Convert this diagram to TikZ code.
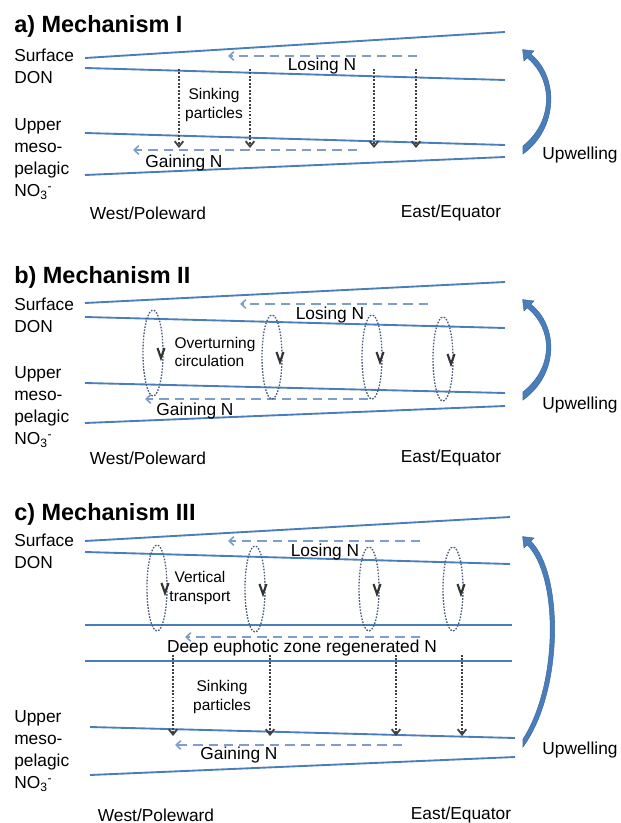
\documentclass[tikz,border=0pt]{standalone}
\usepackage{fontspec}
\setmainfont{Liberation Sans}
\usetikzlibrary{arrows.meta}

\definecolor{seablue}{RGB}{74,126,187}
\definecolor{flowblue}{RGB}{125,158,205}
\definecolor{dotgrey}{RGB}{65,65,68}
\definecolor{loopgrey}{RGB}{75,92,125}

% curved upwelling arrow: x of tail, top y, bottom y, bulge, tail bend, head bend
\newcommand\upwellarrow[6]{%
  \fill[seablue, draw=seablue!85!black, line width=0.4pt]
    ({#1},{#3+4}) .. controls ({#1+#4+3},{#3-#5+3}) and ({#1+#4+2.5},{#2+#6-2}) .. ({#1+7.8},{#2+6.2})
    -- ({#1+11},{#2+3}) -- ({#1-0.4},{#2+1.6}) -- ({#1+1},{#2+13}) -- ({#1+4.2},{#2+9.8})
    .. controls ({#1+#4-2},{#2+#6+2}) and ({#1+#4-3},{#3-#5-3}) .. ({#1},{#3-4}) -- cycle;}

% horizontal transport arrow between two named coordinates
\newcommand\flowline[4]{%
  \coordinate (#1s) at (#2,#4); \coordinate (#1e) at (#3,#4);
  \draw[flow] (#1s) -- (#1e);}

% sinking particle arrow
\newcommand\sinkline[4]{%
  \coordinate (#1s) at (#2,#3); \coordinate (#1e) at (#2,#4);
  \draw[sink] (#1s) -- (#1e);}

% overturning loop with its downward mark
\newcommand\overturn[4]{%
  \coordinate (#1) at (#2,#3);
  \draw[loop] (#1) ellipse [x radius=10, y radius=#4];
  \draw[vmark] ([shift={(4.5,-5)}]#1) -- ([shift={(8,5)}]#1) -- ([shift={(11.5,-5)}]#1);}

\begin{document}
\begin{tikzpicture}[x=0.75pt,y=-0.75pt,
  layer/.style={draw=seablue, line width=1.4pt},
  flow/.style={draw=flowblue, line width=1.2pt, dash pattern=on 7pt off 4.5pt,
    -{Straight Barb[length=3.5pt,width=6.5pt]}},
  sink/.style={draw=dotgrey, line width=1.1pt, dash pattern=on 1.4pt off 1.2pt,
    -{Straight Barb[length=4pt,width=6.5pt,line width=1.4pt]}},
  loop/.style={draw=loopgrey, line width=1pt, dash pattern=on 1.2pt off 1.1pt},
  vmark/.style={draw=dotgrey!80!black, line width=1.6pt},
  title/.style={font=\fontsize{17.6}{21}\selectfont\bfseries, anchor=base west, inner sep=0pt},
  side/.style={font=\fontsize{13}{16.5}\selectfont, align=left, anchor=west, inner sep=0pt},
  lbl/.style={font=\fontsize{13}{16}\selectfont, inner sep=0pt},
  small/.style={font=\fontsize{11.6}{13.8}\selectfont, align=center, inner sep=0pt}
]
\useasboundingbox (0,0) rectangle (620,823);

%% ---------------- a) Mechanism I ----------------
\node[title] (ta) at (14,33) {a) Mechanism I};
\node[side] (sa) at (14,66) {Surface\\DON};
\node[side] (ma) at (14,159) {Upper\\meso-\\pelagic\\NO\textsubscript{3}\textsuperscript{-}};

\draw[layer] (85,58) -- (505,32);
\draw[layer] (85,68) -- (505,80);
\draw[layer] (85,133) -- (505,145);
\draw[layer] (85,175) -- (505,157);

\flowline{aL}{417}{228}{56}
\node[lbl] (laL) at (322,66) {Losing N};
\flowline{aG}{357}{133}{150}
\node[lbl] (laG) at (184,163) {Gaining N};

\sinkline{aS1}{179}{69}{148}
\sinkline{aS2}{250}{69}{148}
\sinkline{aS3}{374}{69}{148}
\sinkline{aS4}{416}{69}{148}
\node[small] (laS) at (214,105) {Sinking\\particles};

\upwellarrow{523}{48}{150}{33}{25}{30}
\node[lbl] (uwa) at (580,155) {Upwelling};
\node[lbl] (wpa) at (148,213) {West/Poleward};
\node[lbl] (eea) at (451,213) {East/Equator};

%% ---------------- b) Mechanism II ----------------
\node[title] (tb) at (14,283) {b) Mechanism II};
\node[side] (sb) at (14,315) {Surface\\DON};
\node[side] (mb) at (14,407) {Upper\\meso-\\pelagic\\NO\textsubscript{3}\textsuperscript{-}};

\draw[layer] (85,303) -- (505,282);
\draw[layer] (85,317) -- (505,328);
\draw[layer] (85,383) -- (505,393);
\draw[layer] (85,423) -- (505,406);

\flowline{bL}{428}{240}{304}
\node[lbl] (lbL) at (330,315) {Losing N};
\flowline{bG}{368}{145}{399}
\node[lbl] (lbG) at (195,411) {Gaining N};

\overturn{bO1}{153}{353}{43}
\overturn{bO2}{272}{357}{42}
\overturn{bO3}{372}{357}{42}
\overturn{bO4}{443}{359}{42}
\node[small, align=left] (lbO) at (215,352) {Overturning\\circulation};

\upwellarrow{523}{298}{396}{33}{25}{30}
\node[lbl] (uwb) at (580,405) {Upwelling};
\node[lbl] (wpb) at (148,458) {West/Poleward};
\node[lbl] (eeb) at (451,458) {East/Equator};

%% ---------------- c) Mechanism III ----------------
\node[title] (tc) at (14,520) {c) Mechanism III};
\node[side] (sc) at (14,551) {Surface\\DON};
\node[side] (mc) at (14,751) {Upper\\meso-\\pelagic\\NO\textsubscript{3}\textsuperscript{-}};

\draw[layer] (85,541) -- (510,517);
\draw[layer] (85,552) -- (510,564);
\draw[layer] (85,625) -- (512,625);
\draw[layer] (85,661) -- (512,661);
\draw[layer] (90,727) -- (515,738);
\draw[layer] (90,775) -- (515,757);

\flowline{cL}{420}{228}{541}
\node[lbl] (lcL) at (325,552) {Losing N};

\overturn{cO1}{157}{588}{43}
\overturn{cO2}{255}{589}{43}
\overturn{cO3}{369}{589}{42}
\overturn{cO4}{453}{589}{42}
\node[small] (lcV) at (200,588) {Vertical\\transport};

\flowline{cD}{420}{185}{637}
\node[lbl] (lcD) at (302,648) {Deep euphotic zone regenerated N};

\sinkline{cS1}{173}{655}{736}
\sinkline{cS2}{270}{655}{736}
\sinkline{cS3}{396}{655}{736}
\sinkline{cS4}{462}{655}{736}
\node[small] (lcS) at (222,697) {Sinking\\particles};

\flowline{cG}{402}{175}{745}
\node[lbl] (lcG) at (239,755) {Gaining N};

\upwellarrow{523}{535}{743}{38}{55}{40}
\node[lbl] (uwc) at (580,750) {Upwelling};
\node[lbl] (wpc) at (156,815) {West/Poleward};
\node[lbl] (eec) at (461,815) {East/Equator};
\end{tikzpicture}
\end{document}
